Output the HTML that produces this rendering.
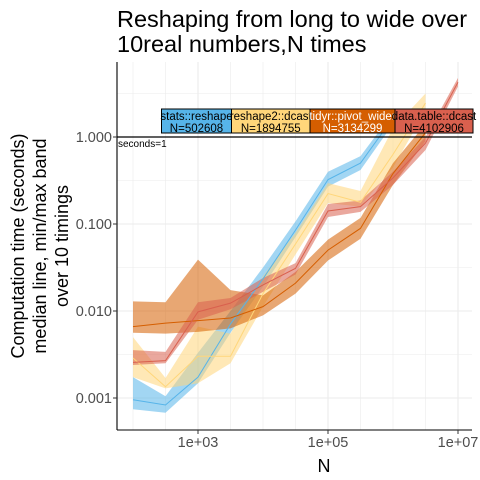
<!DOCTYPE html>
<html><head><meta charset="utf-8"><style>
body{margin:0;background:#fff}
svg{display:block;font-family:"Liberation Sans",sans-serif}
</style></head><body>
<svg id="c" width="480" height="480" xmlns="http://www.w3.org/2000/svg">
<text x="117" y="27" font-size="23.5" fill="#000">Reshaping from long to wide over</text>
<text x="117" y="52" font-size="23.5" fill="#000">10real numbers,N times</text>
<g id="grid"></g>
<g id="bands"></g>
<g id="lines"></g>
<line x1="117" x2="472" y1="137" y2="137" stroke="#000" stroke-width="1.2"/>
<text x="118" y="147" font-size="10">seconds=1</text>
<g id="labels"></g>
<g id="axes"></g>
<text x="324" y="472" font-size="18" text-anchor="middle" fill="#000">N</text>
<g transform="translate(0,246) rotate(-90)">
<text x="0" y="24" font-size="18" text-anchor="middle">Computation time (seconds)</text>
<text x="0" y="46" font-size="18" text-anchor="middle">median line, min/max band</text>
<text x="0" y="68" font-size="18" text-anchor="middle">over 10 timings</text>
</g>
</svg>
<script>
const logN = [2,2.5,3,3.5,4,4.5,5,5.5,6,6.5,7];
const seriesNames = ["stats::reshape","reshape2::dcast","tidyr::pivot_wider","data.table::dcast"];
const seriesColors = ["#56B4E9","#FFD67A","#D55E00","#D9604E"];
const labelN = ["N=502608","N=1894755","N=3134299","N=4102906"];
const medStats = [-3.02,-3.08,-2.76,-2.15,-1.63,-1.07,-0.49,-0.3,0.22];
const minStats = [-3.13,-3.17,-2.83,-2.25,-1.72,-1.15,-0.57,-0.38,0.15];
const maxStats = [-2.76,-2.98,-2.48,-2.0,-1.5,-0.97,-0.4,-0.22,0.28];
const medReshape2 = [-2.54,-2.87,-2.52,-2.52,-1.8,-1.23,-0.65,-0.75,-0.2,0.39];
const minReshape2 = [-2.76,-2.89,-2.83,-2.6,-1.95,-1.35,-0.76,-0.8,-0.35,0.3];
const maxReshape2 = [-2.3,-2.77,-2.18,-2.26,-1.6,-1.1,-0.53,-0.62,0.1,0.5];
const medTidyr = [-2.18,-2.14,-2.11,-2.08,-1.95,-1.68,-1.3,-1.05,-0.42,0.05];
const minTidyr = [-2.25,-2.26,-2.24,-2.2,-2.05,-1.8,-1.42,-1.17,-0.55,-0.05];
const maxTidyr = [-1.89,-1.9,-1.41,-1.76,-1.82,-1.55,-1.18,-0.93,-0.3,0.15];
const medDT = [-2.59,-2.57,-2.01,-1.91,-1.7,-1.51,-0.85,-0.8,-0.47,-0.07,0.63];
const minDT = [-2.62,-2.6,-2.1,-1.98,-1.78,-1.58,-0.92,-0.86,-0.55,-0.15,0.58];
const maxDT = [-2.45,-2.47,-1.9,-1.85,-1.62,-1.45,-0.77,-0.73,-0.4,0.0,0.68];
const xTickLabels = ["1e+03","1e+05","1e+07"];
const xTickLog = [3,5,7];
const yTickLabels = ["0.001","0.010","0.100","1.000"];
const yTickLog = [-3,-2,-1,0];

const NS="http://www.w3.org/2000/svg";
const L=117,R=472,T=62,B=430;
const X=v=>198+(v-3)*65;
const Y=v=>137-v*87;
function mk(tag,attrs,parent){const e=document.createElementNS(NS,tag);for(const k in attrs)e.setAttribute(k,attrs[k]);parent.appendChild(e);return e;}
const grid=document.getElementById('grid');
for(let v=1.5;v<=7.5;v+=0.5){const x=X(v);if(x<L||x>R)continue;
 const g=mk('line',{x1:x,x2:x,y1:T,y2:B,stroke:'#ebebeb','stroke-width':(v%2===1)?1.1:0.6},grid);
 }
for(let v=-3.5;v<=1;v+=0.5){const y=Y(v);if(y<T||y>B)continue;
 const g=mk('line',{x1:L,x2:R,y1:y,y2:y,stroke:'#ebebeb','stroke-width':(Number.isInteger(v))?1.1:0.6},grid);
 }
const meds=[medStats,medReshape2,medTidyr,medDT],mins=[minStats,minReshape2,minTidyr,minDT],maxs=[maxStats,maxReshape2,maxTidyr,maxDT];
const bands=document.getElementById('bands'),lines=document.getElementById('lines');
for(let s=0;s<4;s++){
 const up=maxs[s].map((v,i)=>X(logN[i])+','+Y(v));
 const lo=mins[s].map((v,i)=>X(logN[i])+','+Y(v)).reverse();
 const p=mk('polygon',{points:up.concat(lo).join(' '),fill:seriesColors[s],'fill-opacity':0.55},bands);
 
 
}
for(let s=0;s<4;s++){
 const pts=meds[s].map((v,i)=>X(logN[i])+','+Y(v)).join(' ');
 const l=mk('polyline',{points:pts,fill:'none',stroke:seriesColors[s],'stroke-width':1},lines);
 
 
}
const labels=document.getElementById('labels');
const bx=[161.5,231.5,310,395,473];
for(let s=0;s<4;s++){
 const r=mk('rect',{x:bx[s],y:109,width:bx[s+1]-bx[s],height:24,fill:seriesColors[s],stroke:'#000','stroke-width':1},labels);
 
 
 const cx=(bx[s]+bx[s+1])/2;
 const t1=mk('text',{x:cx,y:120,'font-size':11.5,'text-anchor':'middle',fill:s===2?'#fff':'#000'},labels);t1.textContent=seriesNames[s];
 
 
 const t2=mk('text',{x:cx,y:132,'font-size':11.5,'text-anchor':'middle',fill:s===2?'#fff':'#000'},labels);t2.textContent=labelN[s];
 
 
}
const axes=document.getElementById('axes');
mk('line',{x1:L,x2:L,y1:T,y2:B,stroke:'#000','stroke-width':1.1},axes);
mk('line',{x1:L,x2:R,y1:B,y2:B,stroke:'#000','stroke-width':1.1},axes);
xTickLog.forEach((v,i)=>{const x=X(v);mk('line',{x1:x,x2:x,y1:B,y2:B+4,stroke:'#333'},axes);
 const t=mk('text',{x:x,y:447,'font-size':14.5,'text-anchor':'middle',fill:'#4d4d4d'},axes);t.textContent=xTickLabels[i];
 
 });
yTickLog.forEach((v,i)=>{const y=Y(v);mk('line',{x1:L-4,x2:L,y1:y,y2:y,stroke:'#333'},axes);
 const t=mk('text',{x:112,y:y+5,'font-size':14.5,'text-anchor':'end',fill:'#4d4d4d'},axes);t.textContent=yTickLabels[i];
 
 });
</script>
</body></html>
